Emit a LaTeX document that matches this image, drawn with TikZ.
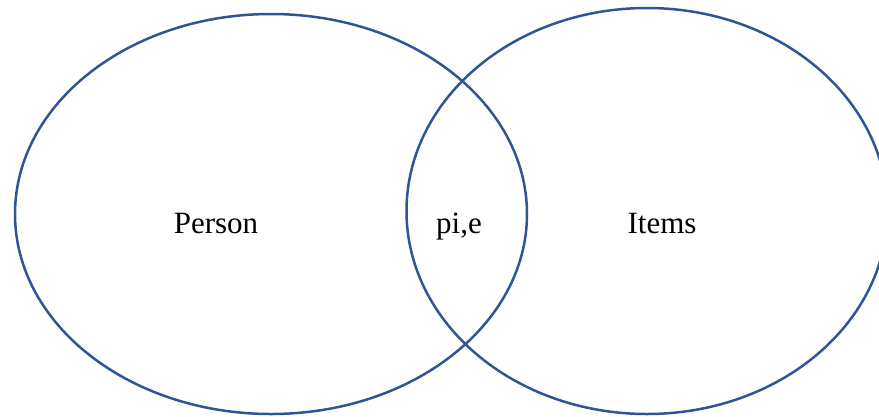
\documentclass[tikz,border=0pt]{standalone}
\usepackage{fontspec}
\setmainfont{Liberation Serif}
\usetikzlibrary{shapes.geometric}
\definecolor{vennblue}{RGB}{47,85,151}
\begin{document}
\begin{tikzpicture}[x=1pt,y=-1pt,
  vennset/.style={draw=vennblue,line width=2.5pt,ellipse,inner sep=0pt},
  lbl/.style={anchor=base,font=\fontsize{31}{36}\selectfont,inner sep=0pt}]
\useasboundingbox (0,0) rectangle (879,416);
\clip (0,0) rectangle (879,416);
\node[vennset,minimum width=512pt,minimum height=400pt] (person) at (271,214) {};
\node[vennset,minimum width=481pt,minimum height=406pt] (items) at (647,211) {};
\node[lbl] (lperson) at (216,233) {Person};
\node[lbl] (lpie) at (459,233) {pi,e};
\node[lbl] (litems) at (662,233) {Items};
\end{tikzpicture}
\end{document}
